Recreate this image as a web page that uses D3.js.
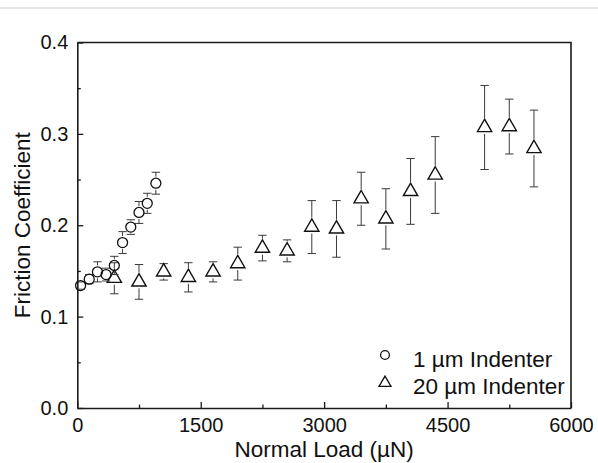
<!DOCTYPE html>
<html><head><meta charset="utf-8">
<script src="https://cdn.jsdelivr.net/npm/d3@7"></script>
<style>
body{margin:0;background:#fff;}
svg{display:block;font-family:"Liberation Sans",Arial,sans-serif;}
</style></head>
<body>
<svg id="c" width="598" height="463"></svg>
<script>
// 1 µm Indenter
const circleLoad = [40,145,245,350,450,550,650,750,850,955];
const circleCoef = [0.134,0.141,0.149,0.146,0.156,0.181,0.198,0.214,0.224,0.246];
const circleErr  = [0.004,0.005,0.011,0.007,0.010,0.012,0.008,0.012,0.011,0.012];
// 20 µm Indenter
const triLoad = [450,750,1050,1350,1650,1950,2250,2550,2850,3150,3450,3750,4050,4350,4950,5250,5550];
const triCoef = [0.142,0.138,0.149,0.143,0.149,0.158,0.175,0.172,0.198,0.196,0.229,0.207,0.237,0.255,0.307,0.308,0.284];
const triErr  = [0.017,0.019,0.009,0.016,0.011,0.018,0.014,0.012,0.029,0.031,0.029,0.033,0.036,0.042,0.046,0.030,0.042];
const xTicks = [0,1500,3000,4500,6000];
const yTicks = [0.0,0.1,0.2,0.3,0.4];
const seriesNames = ["1 µm Indenter","20 µm Indenter"];
const xTitle = "Normal Load (µN)";
const yTitle = "Friction Coefficient";

const svg = d3.select("#c");
const L = 77.3, R = 571, T = 42.5, B = 408;
const x = d3.scaleLinear().domain([0,6000]).range([L,R]);
const y = d3.scaleLinear().domain([0,0.4]).range([B,T]);

// top light rule
svg.append("line").attr("x1",0).attr("x2",598).attr("y1",8).attr("y2",8)
  .attr("stroke","#e3e3e3").attr("stroke-width",2);

// minor ticks
const minorX = d3.range(750,6000,1500);
const minorY = d3.range(0.05,0.4,0.1);
const axisColor = "#1a1a1a";

const gx = svg.append("g").attr("transform",`translate(0,${B})`)
  .call(d3.axisBottom(x).tickValues(xTicks).tickFormat(d3.format("d")).tickSizeInner(-6).tickSizeOuter(0).tickPadding(10));
const gy = svg.append("g").attr("transform",`translate(${L},0)`)
  .call(d3.axisLeft(y).tickValues(yTicks).tickFormat(d3.format(".1f")).tickSizeInner(-6).tickSizeOuter(0).tickPadding(9));
[gx,gy].forEach(g=>{
  g.select(".domain").attr("stroke",axisColor).attr("stroke-width",1.6);
  g.selectAll(".tick line").attr("stroke",axisColor).attr("stroke-width",1.3);
  g.selectAll(".tick text").attr("font-size",20).attr("fill","#111")
   .attr("font-family","'Liberation Sans',Arial,sans-serif");
});
svg.append("g").attr("transform",`translate(0,${B})`)
  .call(d3.axisBottom(x).tickValues(minorX).tickFormat("").tickSizeInner(-3.5).tickSizeOuter(0))
  .call(g=>{g.select(".domain").remove(); g.selectAll("line").attr("stroke",axisColor).attr("stroke-width",1.3);});
svg.append("g").attr("transform",`translate(${L},0)`)
  .call(d3.axisLeft(y).tickValues(minorY).tickFormat("").tickSizeInner(-3.5).tickSizeOuter(0))
  .call(g=>{g.select(".domain").remove(); g.selectAll("line").attr("stroke",axisColor).attr("stroke-width",1.3);});
// top & right frame
svg.append("path").attr("d",`M${L},${T}H${R}V${B}`).attr("fill","none")
  .attr("stroke",axisColor).attr("stroke-width",1.6);

// titles
svg.append("text").attr("x",(L+R)/2).attr("y",456.5).attr("text-anchor","middle")
  .attr("font-size",22.5).attr("fill","#111").text(xTitle);
svg.append("text").attr("transform",`translate(30,${(T+B)/2}) rotate(-90)`).attr("text-anchor","middle")
  .attr("font-size",22.5).attr("fill","#111").text(yTitle);

// helpers
function triPath(s){ const h = s*Math.sqrt(3)/2; return `M0,${-2*h/3}L${s/2},${h/3}L${-s/2},${h/3}Z`; }
const capW = 4.2, errColor = "#3a3a3a";
function errorBars(g, xs, ys, es, gapUp, gapDown){
  xs.forEach((xv,i)=>{
    const cx = x(xv), cy = y(ys[i]), yt = y(ys[i]+es[i]), yb = y(ys[i]-es[i]);
    const grp = g.append("g").attr("stroke",errColor).attr("stroke-width",1);
    if (cy-gapUp > yt) grp.append("line").attr("x1",cx).attr("x2",cx).attr("y1",yt).attr("y2",cy-gapUp);
    if (cy+gapDown < yb) grp.append("line").attr("x1",cx).attr("x2",cx).attr("y1",cy+gapDown).attr("y2",yb);
    grp.append("line").attr("x1",cx-capW).attr("x2",cx+capW).attr("y1",yt).attr("y2",yt);
    grp.append("line").attr("x1",cx-capW).attr("x2",cx+capW).attr("y1",yb).attr("y2",yb);
  });
}
const plot = svg.append("g");
// triangles
errorBars(plot, triLoad, triCoef, triErr, 9.5, 6.5);
plot.selectAll("path.tri").data(triLoad).enter().append("path").attr("class","tri")
  .attr("d",triPath(14.3)).attr("transform",(d,i)=>`translate(${x(d)},${y(triCoef[i])})`)
  .attr("fill","none").attr("stroke","#111").attr("stroke-width",1.4);
// circles
errorBars(plot, circleLoad, circleCoef, circleErr, 6.5, 6.5);
plot.selectAll("circle.c").data(circleLoad).enter().append("circle").attr("class","c")
  .attr("cx",d=>x(d)).attr("cy",(d,i)=>y(circleCoef[i])).attr("r",5)
  .attr("fill","none").attr("stroke","#111").attr("stroke-width",1.3);

// legend
const lg = svg.append("g");
lg.append("circle").attr("cx",385).attr("cy",355).attr("r",4.4)
  .attr("fill","none").attr("stroke","#111").attr("stroke-width",1.3);
lg.append("path").attr("d",triPath(12)).attr("transform","translate(385,383)")
  .attr("fill","none").attr("stroke","#111").attr("stroke-width",1.3);
lg.append("text").attr("x",413).attr("y",366.5).attr("font-size",22.5).attr("fill","#111").text(seriesNames[0]);
lg.append("text").attr("x",413).attr("y",393.5).attr("font-size",22.5).attr("fill","#111").text(seriesNames[1]);
</script>
</body></html>
